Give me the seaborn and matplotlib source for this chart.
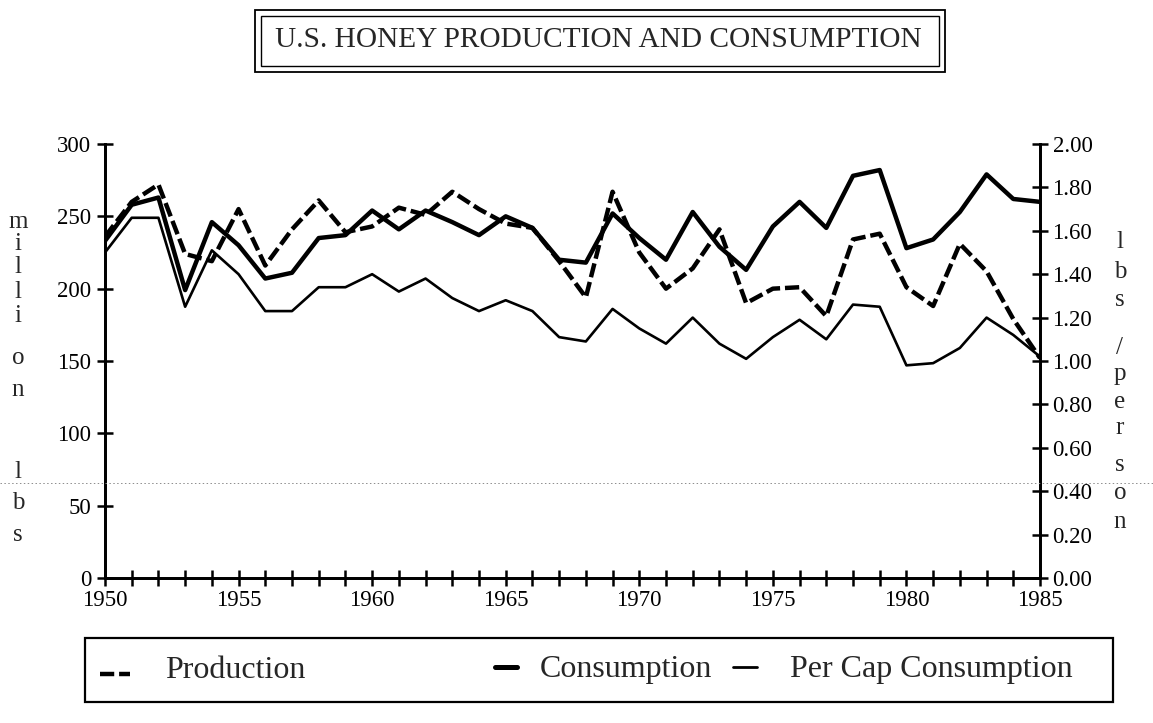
import matplotlib
matplotlib.use("Agg")
import matplotlib.pyplot as plt
import matplotlib.transforms as mtransforms
from matplotlib.lines import Line2D
from matplotlib.patches import Rectangle
import seaborn as sns

# ---------------- data ----------------
years = list(range(1950, 1986))
production = [236, 260, 272, 224, 219, 255, 216, 241, 261, 239,
              243, 256, 251, 267, 255, 245, 242, 219, 194, 267,
              225, 200, 214, 241, 190, 200, 201, 181, 234, 238,
              201, 188, 231, 212, 179, 152]
consumption = [233, 258, 263, 199, 246, 230, 207, 211, 235, 237,
               254, 241, 254, 246, 237, 250, 242, 220, 218, 252,
               235, 220, 253, 229, 213, 243, 260, 242, 278, 282,
               228, 234, 253, 279, 262, 260]
per_cap = [1.50, 1.66, 1.66, 1.25, 1.51, 1.40, 1.23, 1.23, 1.34, 1.34,
           1.40, 1.32, 1.38, 1.29, 1.23, 1.28, 1.23, 1.11, 1.09, 1.24,
           1.15, 1.08, 1.20, 1.08, 1.01, 1.11, 1.19, 1.10, 1.26, 1.25,
           0.98, 0.99, 1.06, 1.20, 1.12, 1.02]
left_ticks = [0, 50, 100, 150, 200, 250, 300]
right_ticks = [0.0, 0.2, 0.4, 0.6, 0.8, 1.0, 1.2, 1.4, 1.6, 1.8, 2.0]
title = "U.S. HONEY PRODUCTION AND CONSUMPTION"
series_names = ["Production", "Consumption", "Per Cap Consumption"]

# ---------------- style ----------------
sns.set_style("ticks")
plt.rcParams['font.family'] = ['Liberation Serif', 'DejaVu Serif']

W, H = 1153, 723
fig = plt.figure(figsize=(W / 100, H / 100), dpi=100)
fig.patch.set_facecolor("white")

def fx(px):
    return px / W

def fy(py):
    return 1 - py / H

ax_l, ax_r, ax_t, ax_b = 105, 1040, 144, 578
ax = fig.add_axes([fx(ax_l), fy(ax_b), fx(ax_r - ax_l), (ax_b - ax_t) / H])
ax2 = ax.twinx()

sns.lineplot(x=years, y=production, ax=ax, color="black", lw=3.2,
             linestyle=(0, (3.2, 1.1)), legend=False)
sns.lineplot(x=years, y=consumption, ax=ax, color="black", lw=3.2,
             legend=False)
sns.lineplot(x=years, y=per_cap, ax=ax2, color="black", lw=1.9,
             legend=False)

ax.set_xlim(1950, 1985)
ax.set_ylim(0, 300)
ax2.set_ylim(0, 2.0)
ax.set_xticks(years)
ax.set_xticklabels([str(y) if y % 5 == 0 else "" for y in years])
ax.set_yticks(left_ticks)
ax.set_yticklabels([str(v) for v in left_ticks])
ax2.set_yticks(right_ticks)
ax2.set_yticklabels([f"{v:.2f}" for v in right_ticks])
ax.set_xlabel("")
ax.set_ylabel("")
ax2.set_ylabel("")

for a in (ax, ax2):
    a.spines["top"].set_visible(False)
    for s in ("left", "right", "bottom"):
        a.spines[s].set_linewidth(2.0)
        a.spines[s].set_color("black")
    a.grid(False)

ax.tick_params(axis="both", direction="inout", length=12, width=1.8,
               labelsize=16.5, colors="black")
ax.tick_params(axis="x", pad=3)
ax.tick_params(axis="y", pad=4)
ax2.tick_params(axis="y", direction="inout", length=12, width=1.8,
                labelsize=16.5, colors="black", pad=3)

# stacked axis titles
tl = mtransforms.blended_transform_factory(fig.transFigure, ax.transData)
left_letters = list("million") + list("lbs")
left_vals = [246, 231, 215, 198, 181, 152, 130, 73, 52, 30]
for ch, v in zip(left_letters, left_vals):
    fig.text(fx(18), v, ch, transform=tl, ha="center", va="center",
             fontsize=18)

tr = mtransforms.blended_transform_factory(fig.transFigure, ax2.transData)
right_letters = list("lbs/person")
right_vals = [1.55, 1.41, 1.28, 1.06, 0.94, 0.81, 0.69, 0.52, 0.39, 0.26]
for ch, v in zip(right_letters, right_vals):
    fig.text(fx(1120), v, ch, transform=tr, ha="center", va="center",
             fontsize=18)

# title with double frame
fig.text(fx(598), fy(40), title, ha="center", va="center", fontsize=21.2)
fig.add_artist(Rectangle((fx(255), fy(72)), fx(690), 62 / H,
                         transform=fig.transFigure, fill=False,
                         edgecolor="black", lw=1.3))
fig.add_artist(Rectangle((fx(261), fy(66)), fx(678), 50 / H,
                         transform=fig.transFigure, fill=False,
                         edgecolor="black", lw=1.0))

# legend box
fig.add_artist(Rectangle((fx(85), fy(702)), fx(1028), 64 / H,
                         transform=fig.transFigure, fill=False,
                         edgecolor="black", lw=1.6))
ly = fy(670)
fig.add_artist(Line2D([fx(100), fx(130)], [ly - 0.006, ly - 0.006],
                      transform=fig.transFigure, color="black", lw=3.2,
                      linestyle=(0, (3.2, 1.1))))
fig.text(fx(165), ly, series_names[0], ha="left", va="center", fontsize=23)
fig.add_artist(Line2D([fx(495), fx(517)], [ly + 0.004, ly + 0.004],
                      transform=fig.transFigure, color="black", lw=3.6))
fig.text(fx(540), ly, series_names[1], ha="left", va="center", fontsize=23)
fig.add_artist(Line2D([fx(733), fx(757)], [ly + 0.004, ly + 0.004],
                      transform=fig.transFigure, color="black", lw=2.0))
fig.text(fx(790), ly, series_names[2], ha="left", va="center", fontsize=23)

# faint dotted scan line across the page
fig.add_artist(Line2D([0, 1], [fy(483), fy(483)], transform=fig.transFigure,
                      color="0.55", lw=0.7, linestyle=(0, (1.5, 2.5))))

fig.savefig("out.png", dpi=100, facecolor="white")
